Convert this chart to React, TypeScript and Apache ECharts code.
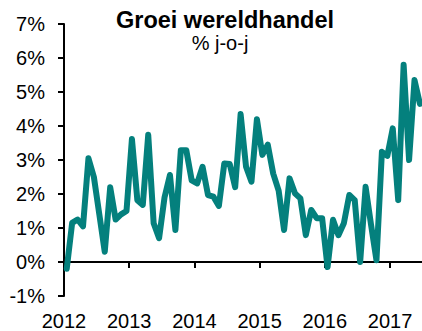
import React, { useEffect, useRef } from "react";
import * as echarts from "echarts";

// Monthly world trade growth, % year-on-year, starting January 2012
const startYear = 2012;
const tradeGrowth: number[] = [
  -0.2, 1.15, 1.25, 1.05, 3.05, 2.5, 1.4, 0.3, 2.2, 1.25, 1.4, 1.5,
  3.62, 1.82, 1.68, 3.74, 1.14, 0.7, 1.9, 2.56, 0.94, 3.29, 3.29, 2.4,
  2.31, 2.8, 1.97, 1.92, 1.65, 2.9, 2.88, 2.2, 4.35, 2.8, 2.36, 4.2,
  3.15, 3.45, 2.6, 2.1, 0.94, 2.46, 2.02, 1.87, 0.79, 1.53, 1.29, 1.29,
  -0.15, 1.24, 0.79, 1.14, 1.97, 1.82, 0.0, 2.21, 1.1, 0.05, 3.24, 3.12,
  3.93, 1.82, 5.8, 3.0, 5.35, 4.65,
];
const yearTicks: number[] = [2012, 2013, 2014, 2015, 2016, 2017];
const titleText = "Groei wereldhandel";
const subtitleText = "% j-o-j";

const FONT = "'Liberation Sans', Arial, sans-serif";

export default function App() {
  const ref = useRef<HTMLDivElement>(null);

  useEffect(() => {
    if (!ref.current) return;
    const chart = echarts.init(ref.current, undefined, { renderer: "svg" });

    // each month is placed at its middle, in fractional years
    const points = tradeGrowth.map((v, i) => [startYear + (i + 0.5) / 12, v]);

    chart.setOption({
      animation: false,
      backgroundColor: "#ffffff",
      grid: { left: 64, right: 0, top: 24, bottom: 35, containLabel: false },
      graphic: [
        {
          type: "text",
          x: 225,
          y: 20,
          style: {
            text: titleText,
            font: `bold 23.5px ${FONT}`,
            fill: "#000",
            align: "center",
            verticalAlign: "middle",
          },
        },
        {
          type: "text",
          x: 220,
          y: 43,
          style: {
            text: subtitleText,
            font: `20px ${FONT}`,
            fill: "#000",
            align: "center",
            verticalAlign: "middle",
          },
        },
      ],
      xAxis: [
        {
          type: "value",
          min: 2012,
          max: 2017.49,
          interval: 1,
          axisLine: { onZero: true, lineStyle: { color: "#000", width: 2 } },
          axisTick: {
            show: true,
            length: 6,
            customValues: yearTicks.slice(1),
            lineStyle: { color: "#000", width: 2 },
          },
          axisLabel: { show: false },
          splitLine: { show: false },
        },
        {
          type: "value",
          position: "bottom",
          min: 2012,
          max: 2017.49,
          interval: 1,
          axisLine: { show: false, onZero: false },
          axisTick: { show: false },
          axisLabel: {
            show: true,
            customValues: yearTicks,
            formatter: (v: number) => String(Math.round(v)),
            fontFamily: FONT,
            fontSize: 20,
            color: "#000",
            margin: 15,
          },
          splitLine: { show: false },
        },
      ],
      yAxis: {
        type: "value",
        min: -1,
        max: 7,
        interval: 1,
        axisLine: { show: true, onZero: false, lineStyle: { color: "#000", width: 2 } },
        axisTick: { show: true, length: 6, lineStyle: { color: "#000", width: 2 } },
        axisLabel: {
          formatter: "{value}%",
          fontFamily: FONT,
          fontSize: 20,
          color: "#000",
          margin: 19,
        },
        splitLine: { show: false },
      },
      series: [
        {
          type: "line",
          xAxisIndex: 0,
          data: points,
          showSymbol: false,
          symbol: "none",
          clip: false,
          lineStyle: { color: "#04807d", width: 6, join: "round", cap: "round" },
          z: 1,
        },
      ],
    });

    return () => chart.dispose();
  }, []);

  return (
    <div
      ref={ref}
      style={{ position: "fixed", left: 0, top: 0, width: 422, height: 331, background: "#fff" }}
    />
  );
}
